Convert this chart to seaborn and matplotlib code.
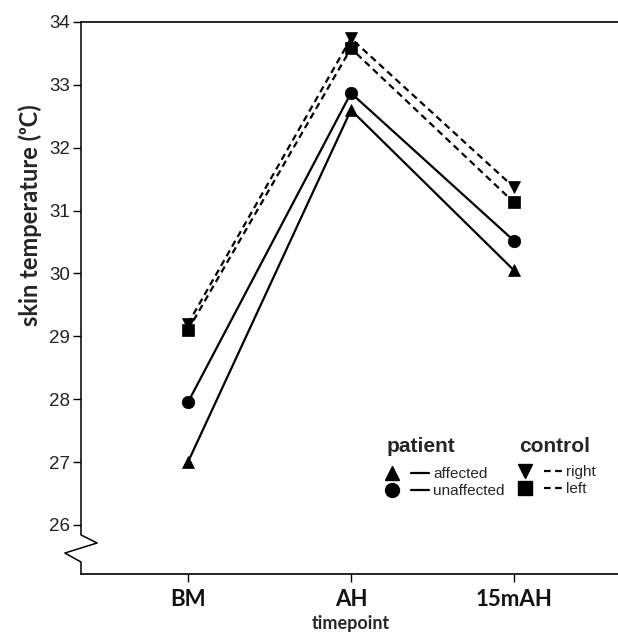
import numpy as np
import pandas as pd
import matplotlib
matplotlib.use("Agg")
import matplotlib.pyplot as plt
from matplotlib.lines import Line2D
from matplotlib.legend_handler import HandlerTuple
import seaborn as sns

# ---- data ----
timepoints = ["BM", "AH", "15mAH"]
affected = [27.00, 32.60, 30.05]
unaffected = [27.95, 32.87, 30.52]
control_right = [29.20, 33.74, 31.37]
control_left = [29.10, 33.58, 31.13]
yticks = [26, 27, 28, 29, 30, 31, 32, 33, 34]

series_names = ["affected", "unaffected", "right", "left"]
series_vals = [affected, unaffected, control_right, control_left]

rows = []
for name, vals in zip(series_names, series_vals):
    for t, v in zip(timepoints, vals):
        rows.append({"timepoint": t, "temp": v, "series": name})
df = pd.DataFrame(rows)

sns.set_theme(style="ticks")
plt.rcParams["font.family"] = ["Liberation Sans", "DejaVu Sans"]

fig = plt.figure(figsize=(6.18, 6.33), dpi=100)
ax = fig.add_axes([81 / 618, 1 - 574 / 633, 1 - 81 / 618, (574 - 22) / 633])

markers = {"affected": "^", "unaffected": "o", "right": "v", "left": "s"}
dashes = {"affected": "", "unaffected": "", "right": (3, 2), "left": (3, 2)}

sns.lineplot(data=df, x="timepoint", y="temp", style="series",
             markers=markers, dashes=dashes, color="black",
             markersize=9, markeredgecolor="black", markeredgewidth=0.5,
             linewidth=1.6, legend=False, sort=False, ax=ax)

ax.set_xlim(-0.656, 2.638)
ax.set_ylim(25.22, 34)
ax.set_yticks(yticks)
ax.set_yticklabels([str(t) for t in yticks], fontsize=13.5, color="#222222")
ax.set_xticks(range(len(timepoints)))
ax.set_xticklabels(timepoints, fontsize=16, fontweight="bold",
                   family=["Lato", "DejaVu Sans"], color="#111111")
ax.tick_params(axis="y", length=6, width=1, color="black", pad=2)
ax.tick_params(axis="x", length=6, width=1, color="black", pad=5)

ax.set_xlabel("timepoint", fontsize=13, fontweight="bold",
              family=["Lato", "DejaVu Sans"])
ax.set_ylabel("skin temperature (\u1d52C)", fontsize=17, fontweight="bold",
              family=["Lato", "DejaVu Sans"])
ax.yaxis.set_label_coords(-0.072, 0.65)
ax.xaxis.set_label_coords((351 - 81) / 537, -0.075)

for s in ["left", "right"]:
    ax.spines[s].set_visible(False)
for s in ["top", "bottom"]:
    ax.spines[s].set_linewidth(1.2)
    ax.spines[s].set_color("black")

# broken left axis decoration (axes coordinates)
ax.plot([0, 0, 0.030, -0.030, 0, 0],
        [1, 0.0707, 0.0562, 0.038, 0.0217, 0],
        transform=ax.transAxes, color="black", lw=1.1, clip_on=False)

# ---- legends ----
hmap = {tuple: HandlerTuple(ndivide=None, pad=0.6)}
common = dict(frameon=False, loc="upper left", bbox_transform=fig.transFigure,
              handler_map=hmap, handlelength=3.0, handletextpad=0.3,
              labelspacing=0.2, borderpad=0, borderaxespad=0,
              fontsize=11)

def entry(marker, ls):
    m = Line2D([], [], marker=marker, color="black", linestyle="none",
               markersize=10)
    l = Line2D([], [], color="black", linestyle=ls, lw=1.6,
               dashes=(3, 2) if ls == "--" else (None, None))
    return (m, l)

leg1 = ax.legend([entry("^", "-"), entry("o", "-")], ["affected", "unaffected"],
                 bbox_to_anchor=(383 / 618, 1 - 467 / 633), **common)
ax.add_artist(leg1)
leg2 = ax.legend([entry("v", "--"), entry("s", "--")], ["right", "left"],
                 bbox_to_anchor=(516 / 618, 1 - 465 / 633), **common)

fig.text(387 / 618, 1 - 447 / 633, "patient", fontsize=15, fontweight="bold",
         ha="left", va="center")
fig.text(519 / 618, 1 - 447 / 633, "control", fontsize=15, fontweight="bold",
         ha="left", va="center")

fig.savefig("out.png", dpi=100)
